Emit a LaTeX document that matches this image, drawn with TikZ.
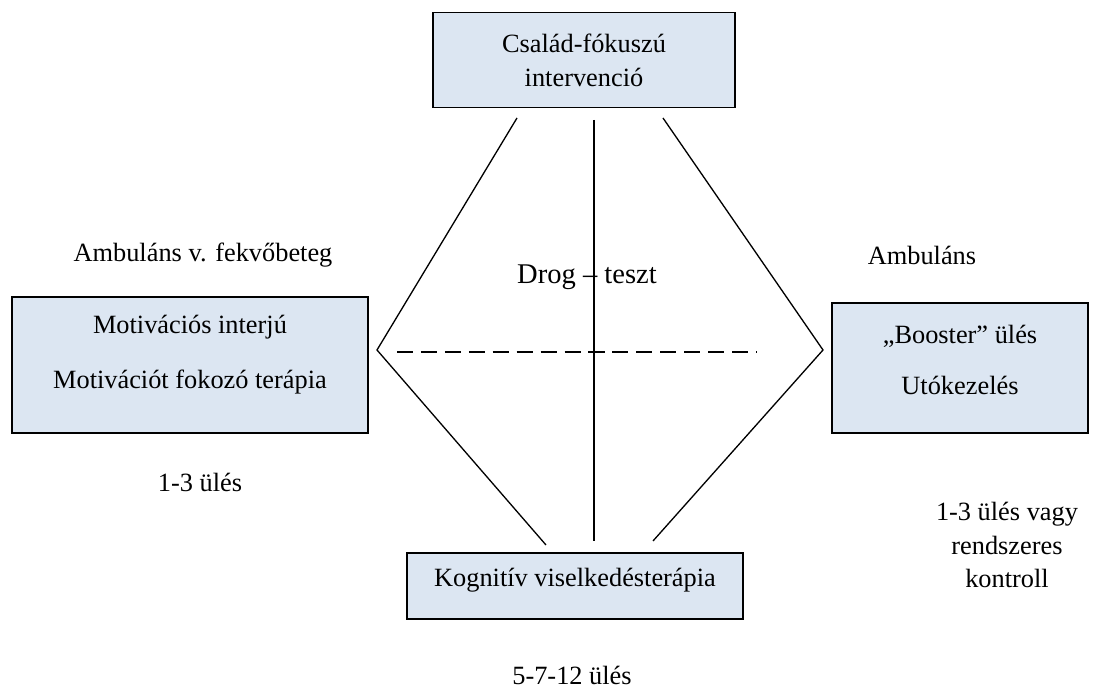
\documentclass[tikz,border=0pt]{standalone}
\usepackage{fontspec}
\setmainfont{Liberation Serif}
\usetikzlibrary{positioning}
\definecolor{boxfill}{HTML}{DCE6F2}
\newcommand{\pu}{0.016cm}

\begin{document}
\begin{tikzpicture}[
  x=\pu, y=-\pu,
  box/.style={draw=black, fill=boxfill, line width=0.9pt, align=center, font=\fontsize{12}{15.4}\selectfont},
  link/.style={line width=0.6pt},
  note/.style={align=center, font=\fontsize{12}{15.4}\selectfont}
]
\useasboundingbox (0,0) rectangle (1095,693);

\node[box, minimum width=302*\pu, minimum height=95*\pu] (family) at (584,60) {Család-fókuszú\\intervenció};
\node[box, minimum width=356*\pu, minimum height=136*\pu, text depth=12pt] (motiv) at (190,365) {Motivációs interjú\\[9.6pt]Motivációt fokozó terápia};
\node[box, minimum width=256*\pu, minimum height=130*\pu, text depth=7.4pt] (booster) at (960,368) {„Booster” ülés\\[8.2pt]Utókezelés};
\node[box, minimum width=336*\pu, minimum height=66*\pu, text depth=8pt] (cbt) at (575,586) {Kognitív viselkedésterápia};

% corner points of the diamond
\coordinate (lv) at (377,350);
\coordinate (rv) at (823,350);
\coordinate (tl) at (517,118);
\coordinate (tr) at (663,118);
\coordinate (tm) at (594,120);
\coordinate (bm) at (594,541);
\coordinate (bl) at (546,545);
\coordinate (br) at (653,541);
\coordinate (dl) at (397,352);
\coordinate (dr) at (757,352);

\draw[link] (tl) -- (lv) -- (bl);
\draw[link] (tr) -- (rv) -- (br);
\draw[link] (tm) -- (bm);
\draw[link, dash pattern=on 7.3pt off 3.6pt] (dl) -- (dr);

\node[note, font=\fontsize{13}{16}\selectfont] (drug) at (587,277) {Drog – teszt};
\node[note] (ambfek) at (203,255) {Ambuláns v. fekvőbeteg};
\node[note] (amb) at (922,255) {Ambuláns};
\node[note] (sess1) at (200,482) {1-3 ülés};
\node[note] (sess2) at (1007,545) {1-3 ülés vagy\\rendszeres\\kontroll};
\node[note] (sess3) at (572,675) {5-7-12 ülés};

\end{tikzpicture}
\end{document}
